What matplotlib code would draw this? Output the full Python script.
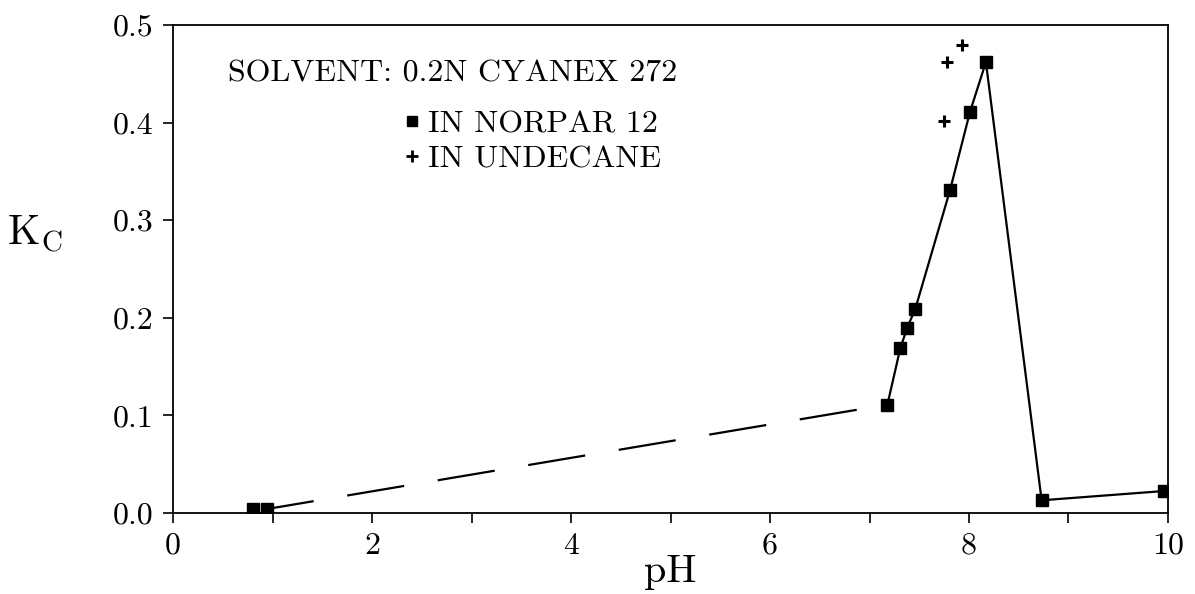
import numpy as np
import matplotlib
matplotlib.use('Agg')
import matplotlib.pyplot as plt
from matplotlib.lines import Line2D

plt.rcParams['font.family'] = ['cmr10', 'DejaVu Serif']
plt.rcParams['mathtext.fontset'] = 'cm'
plt.rcParams['axes.formatter.use_mathtext'] = True

# Norpar 12 (squares)
ph_norpar = [0.80, 0.94, 7.18, 7.31, 7.38, 7.46, 7.81, 8.01, 8.17, 8.73, 9.96]
kc_norpar = [0.004, 0.004, 0.111, 0.169, 0.190, 0.209, 0.331, 0.411, 0.462, 0.013, 0.0225]

# Undecane (pluses)
ph_undec = [7.75, 7.78, 7.93]
kc_undec = [0.402, 0.462, 0.480]

xticks = [0, 1, 2, 3, 4, 5, 6, 7, 8, 9, 10]
xticklabels = ['0', '', '2', '', '4', '', '6', '', '8', '', '10']
yticks = [0.0, 0.1, 0.2, 0.3, 0.4, 0.5]

fig = plt.figure(figsize=(11.95, 5.94), dpi=100)
ax = fig.add_axes([0.1448, 0.1364, 0.9774 - 0.1448, 0.9579 - 0.1364])

# dashed part (low pH) and solid part
ax.plot(ph_norpar[1:3], kc_norpar[1:3], color='black', lw=1.6,
        ls=(4.5, (26, 15.3)))
ax.plot(ph_norpar[2:], kc_norpar[2:], color='black', lw=1.6, ls='-')
ax.plot(ph_norpar, kc_norpar, ls='none', marker='s', ms=8.5, color='black')
ax.plot(ph_undec, kc_undec, ls='none', marker='+', ms=9, mew=2.2, color='black')

ax.set_xlim(0, 10)
ax.set_ylim(0, 0.5)
ax.set_xticks(xticks)
ax.set_xticklabels(xticklabels)
ax.set_yticks(yticks)
ax.set_yticklabels(['%.1f' % v for v in yticks])
ax.tick_params(direction='out', length=7, width=1.2, labelsize=23, pad=7)
for s in ax.spines.values():
    s.set_linewidth(1.3)

ax.set_xlabel('pH', fontsize=29, va='center')
ax.xaxis.set_label_coords(0.5, -0.122)
ax.set_ylabel(r'$\mathrm{K_C}$', fontsize=30, rotation=0, va='center')
ax.yaxis.set_label_coords(-0.139, 0.57)

ax.text(0.055, 0.901, 'SOLVENT: 0.2N CYANEX 272', transform=ax.transAxes,
        fontsize=23, ha='left', va='center')
handles = [Line2D([], [], ls='none', marker='s', ms=7, color='black'),
           Line2D([], [], ls='none', marker='+', ms=8, mew=2, color='black')]
leg = ax.legend(handles, ['IN NORPAR 12', 'IN UNDECANE'], loc='upper left',
                bbox_to_anchor=(0.216, 0.858), frameon=False, fontsize=23,
                handlelength=0.5, handletextpad=0.25, labelspacing=0.2,
                borderpad=0)

plt.savefig('out.png', dpi=100)
